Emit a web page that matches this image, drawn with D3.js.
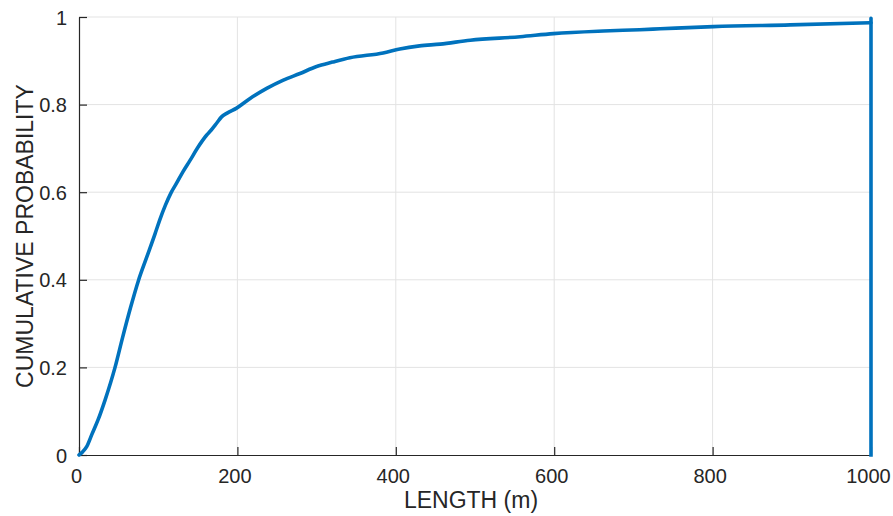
<!DOCTYPE html>
<html>
<head>
<meta charset="utf-8">
<script src="https://cdn.jsdelivr.net/npm/d3@7"></script>
<style>
  html, body { margin: 0; padding: 0; background: #fff; }
  svg { display: block; font-family: "Liberation Sans", Arial, Helvetica, sans-serif; }
</style>
</head>
<body>
<svg id="chart" width="893" height="516"></svg>
<script>
// Empirical cumulative distribution of segment length (m)
const lengthValues = [0, 4, 9.7, 16, 24, 33, 45.5, 55, 65, 75, 85.4, 96, 102, 109, 116, 123, 131, 140, 150, 161, 167, 174, 180, 186.5, 199, 216, 237, 258, 279, 300, 320, 342, 384, 405, 430, 456, 494, 557, 599, 662, 708, 734, 801, 898, 1000];
const probValues   = [0, 0.006, 0.019, 0.046, 0.08, 0.126, 0.2, 0.268, 0.336, 0.398, 0.451, 0.505, 0.537, 0.57, 0.598, 0.62, 0.646, 0.672, 0.702, 0.73, 0.742, 0.758, 0.772, 0.78, 0.792, 0.814, 0.837, 0.856, 0.871, 0.887, 0.897, 0.907, 0.918, 0.927, 0.934, 0.938, 0.947, 0.955, 0.962, 0.968, 0.971, 0.973, 0.978, 0.982, 0.987];
// vertical closing segment at the upper length limit
const capLength = [1000, 1000, 1000];
const capProb   = [0.987, 0.997, 0];

const xTicks = [0, 200, 400, 600, 800, 1000];
const yTicks = [0, 0.2, 0.4, 0.6, 0.8, 1];
const xTickLabels = ["0", "200", "400", "600", "800", "1000"];
const yTickLabels = ["0", "0.2", "0.4", "0.6", "0.8", "1"];

const margin = { left: 79, right: 22, top: 17, bottom: 61 };
const W = 893, H = 516;
const svg = d3.select("#chart");

const x = d3.scaleLinear().domain([0, 1000]).range([margin.left, W - margin.right]);
const y = d3.scaleLinear().domain([0, 1]).range([H - margin.bottom, margin.top]);

const axisColor = "#262626";
const gridColor = "#e3e3e3";

// grid
svg.append("g").selectAll("line").data(xTicks.slice(1)).join("line")
  .attr("x1", d => x(d)).attr("x2", d => x(d))
  .attr("y1", y(0)).attr("y2", y(1))
  .attr("stroke", gridColor).attr("stroke-width", 1);
svg.append("g").selectAll("line").data(yTicks.slice(1)).join("line")
  .attr("x1", x(0)).attr("x2", x(1000))
  .attr("y1", d => y(d)).attr("y2", d => y(d))
  .attr("stroke", gridColor).attr("stroke-width", 1);

// axes (ticks pointing inward)
const xAxis = d3.axisBottom(x).tickValues(xTicks).tickSizeInner(-8).tickSizeOuter(0)
  .tickPadding(14).tickFormat((d, i) => xTickLabels[i]);
const yAxis = d3.axisLeft(y).tickValues(yTicks).tickSizeInner(-8).tickSizeOuter(0)
  .tickPadding(12).tickFormat((d, i) => yTickLabels[i]);

const gx = svg.append("g").attr("transform", `translate(0,${y(0)})`).call(xAxis);
const gy = svg.append("g").attr("transform", `translate(${x(0)},0)`).call(yAxis);

[gx, gy].forEach(g => {
  g.select(".domain").attr("stroke", axisColor).attr("stroke-width", 1.2);
  g.selectAll(".tick line").attr("stroke", axisColor).attr("stroke-width", 1.2);
  g.selectAll(".tick text").attr("fill", axisColor).attr("font-size", 20)
    .attr("font-family", "Liberation Sans, Arial, sans-serif");
});
gx.selectAll(".tick text").attr("dx", -3);
gy.selectAll(".tick text").attr("dy", "0.35em");

// axis titles
svg.append("text")
  .attr("x", (x(0) + x(1000)) / 2 - 4).attr("y", 508)
  .attr("text-anchor", "middle").attr("font-size", 23).attr("fill", axisColor)
  .text("LENGTH (m)");
svg.append("text")
  .attr("transform", `translate(33,${(y(0) + y(1)) / 2}) rotate(-90)`)
  .attr("text-anchor", "middle").attr("font-size", 23).attr("fill", axisColor)
  .text("CUMULATIVE PROBABILITY");

// CDF curve
const pts = lengthValues.map((v, i) => [v, probValues[i]]);
const line = d3.line().x(d => x(d[0])).y(d => y(d[1])).curve(d3.curveMonotoneX);
svg.append("path")
  .datum(pts)
  .attr("d", line)
  .attr("fill", "none")
  .attr("stroke", "#0072BD")
  .attr("stroke-width", 3.6)
  .attr("stroke-linejoin", "round")
  .attr("stroke-linecap", "round");

const capPts = capLength.map((v, i) => [v, capProb[i]]);
svg.append("path")
  .datum(capPts)
  .attr("d", d3.line().x(d => x(d[0])).y(d => y(d[1])))
  .attr("fill", "none")
  .attr("stroke", "#0072BD")
  .attr("stroke-width", 3.6)
  .attr("stroke-linejoin", "round")
  .attr("stroke-linecap", "square");
</script>
</body>
</html>
